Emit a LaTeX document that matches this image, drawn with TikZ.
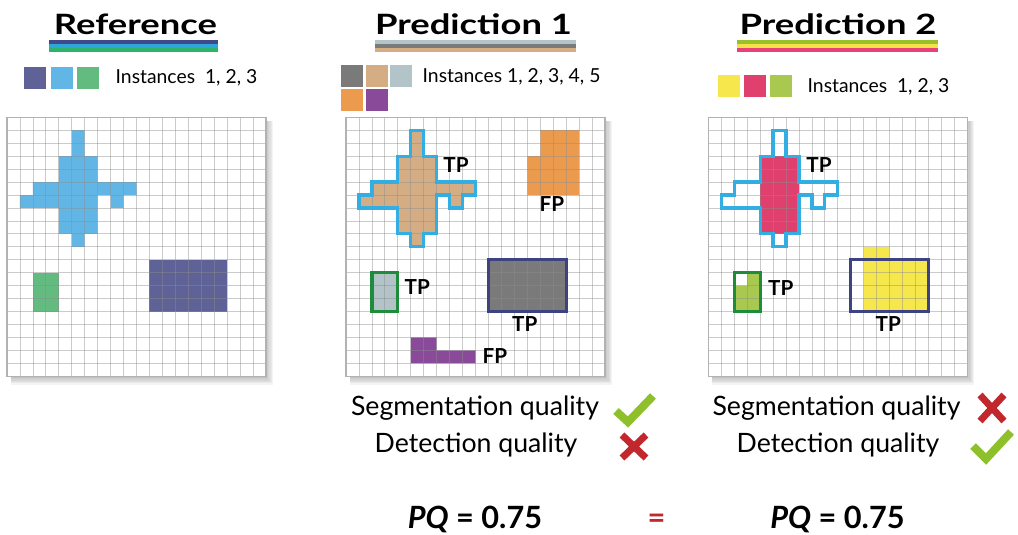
\documentclass[tikz,border=0pt]{standalone}
\usepackage{fontspec}
\setmainfont{Lato}
\usepackage{tikz}
\usetikzlibrary{calc,positioning}
\usepackage{xcolor}

\definecolor{refnavy}{HTML}{5E6296}
\definecolor{refblue}{HTML}{62B6E6}
\definecolor{refgreen}{HTML}{64BB80}
\definecolor{stnavy}{HTML}{3E4A8A}
\definecolor{stblue}{HTML}{2FA6D9}
\definecolor{stgreen}{HTML}{2DB36A}
\definecolor{predgray}{HTML}{7A7A7A}
\definecolor{predtan}{HTML}{D4AD84}
\definecolor{predpale}{HTML}{B2C4C8}
\definecolor{predorange}{HTML}{EC9A4E}
\definecolor{predpurple}{HTML}{8A4A9A}
\definecolor{predyellow}{HTML}{F6E84C}
\definecolor{predpink}{HTML}{E0406E}
\definecolor{predlime}{HTML}{A8C850}
\definecolor{stlime}{HTML}{98C02A}
\definecolor{styellow}{HTML}{F5E24A}
\definecolor{stpink}{HTML}{E8407A}
\definecolor{edgecyan}{HTML}{33AEE3}
\definecolor{edgegreen}{HTML}{1E8C3A}
\definecolor{edgenavy}{HTML}{3D4280}
\definecolor{okgreen}{HTML}{8DC02A}
\definecolor{badred}{HTML}{C1272D}

\begin{document}
\begin{tikzpicture}[x=0.75pt, y=-0.75pt,
    cellgrid/.style={draw=black!45, opacity=0.45, line width=0.6pt},
    gridbox/.style={draw=black!30, line width=0.8pt},
    outline/.style={line width=2.4pt, line join=miter},
    heading/.style={font=\fontsize{21}{24}\selectfont\bfseries, anchor=base, xscale=1.3},
    legendtext/.style={font=\fontsize{14.5}{17}\selectfont, anchor=west},
    tag/.style={font=\fontsize{15.5}{18}\selectfont\bfseries},
    quality/.style={font=\fontsize{20}{24}\selectfont, anchor=base},
    score/.style={font=\fontsize{23}{26}\selectfont\bfseries, anchor=base},
    okmark/.style={draw=okgreen, line width=6pt},
    failmark/.style={draw=badred, line width=5.2pt},
    crossoutline/.style={insert path={(5,1) -- (6,1) -- (6,3) -- (7,3) -- (7,5) -- (10,5) -- (10,6)
        -- (9,6) -- (9,7) -- (8,7) -- (8,6) -- (7,6) -- (7,9) -- (6,9) -- (6,10) -- (5,10) -- (5,9)
        -- (4,9) -- (4,7) -- (1,7) -- (1,6) -- (2,6) -- (2,5) -- (4,5) -- (4,3) -- (5,3) -- cycle}},
    gridbase/.style={insert path={(0,0) rectangle (20,20)}}]
    \useasboundingbox (0,0) rectangle (1018,535);

    % Headings with coloured underlines
    \node[heading] (hRef) at (135.5,35) {Reference};
    \node[heading] (hPredA) at (473.5,35) {Prediction 1};
    \node[heading] (hPredB) at (838,35) {Prediction 2};
    \foreach \x/\w/\ca/\cb/\cc in {49/169/stnavy/stblue/stgreen,
        375/201/predpale/predgray/predtan,
        737/201/stlime/styellow/stpink} {
        \fill[\ca] (\x,40.3) rectangle ++(\w,3.9);
        \fill[\cb] (\x,44.2) rectangle ++(\w,3.9);
        \fill[\cc] (\x,48.1) rectangle ++(\w,3.9);
    }

    % Legends
    \foreach \col/\x/\y in {refnavy/24/67, refblue/51/67, refgreen/77/67,
        predgray/341/65, predtan/366/65, predpale/390/65, predorange/341/89, predpurple/366/89,
        predyellow/718/75, predpink/744/75, predlime/770/75} {
        \fill[\col] (\x,\y) rectangle ++(22,22);
    }
    \node[legendtext] (lRef) at (111,78) {Instances\ \ 1, 2, 3};
    \node[legendtext] (lPredA) at (418,77) {Instances 1, 2, 3, 4, 5};
    \node[legendtext] (lPredB) at (803,87) {Instances\ \ 1, 2, 3};

    % Grids with soft shadow
    \foreach \gx in {7,346,708.3} {
        \begin{scope}[shift={(\gx,117.3)}, x=9.7125pt, y=-9.7125pt]
            \foreach \k in {1,...,6}
                \fill[black, opacity=0.045] (0.3,0.3) rectangle (20+0.09*\k,20+0.11*\k);
            \fill[white, gridbase];
        \end{scope}
    }

    % Reference objects
    \begin{scope}[shift={(7,117.3)}, x=9.7125pt, y=-9.7125pt]
        \fill[refblue, crossoutline];
        \fill[refgreen] (2,12) rectangle (4,15);
        \fill[refnavy] (11,11) rectangle (17,15);
        \foreach \i in {1,...,19} {
            \draw[cellgrid] (\i,0) -- (\i,20);
            \draw[cellgrid] (0,\i) -- (20,\i);
        }
        \draw[gridbox, gridbase];
    \end{scope}

    % Prediction 1 objects
    \begin{scope}[shift={(346,117.3)}, x=9.7125pt, y=-9.7125pt]
        \fill[predtan, crossoutline];
        \fill[predpale] (2,12) rectangle (4,15);
        \fill[predgray] (11,11) rectangle (17,15);
        \fill[predorange] (15,1) -- (18,1) -- (18,6) -- (14,6) -- (14,3) -- (15,3) -- cycle;
        \fill[predpurple] (5,17) -- (7,17) -- (7,18) -- (10,18) -- (10,19) -- (5,19) -- cycle;
        \foreach \i in {1,...,19} {
            \draw[cellgrid] (\i,0) -- (\i,20);
            \draw[cellgrid] (0,\i) -- (20,\i);
        }
        \draw[gridbox, gridbase];
        \draw[outline, edgecyan, crossoutline];
        \draw[outline, edgegreen] (2,12) rectangle (4,15);
        \draw[outline, edgenavy] (11,11) rectangle (17,15);
        \node[tag] (tpA1) at (8.5,3.7) {TP};
        \node[tag] (fpA1) at (15.9,6.7) {FP};
        \node[tag] (tpA2) at (5.5,13.1) {TP};
        \node[tag] (tpA3) at (13.8,16) {TP};
        \node[tag] (fpA2) at (11.5,18.4) {FP};
    \end{scope}

    % Prediction 2 objects
    \begin{scope}[shift={(708.3,117.3)}, x=9.7125pt, y=-9.7125pt]
        \fill[predpink] (4,3) rectangle (7,9);
        \fill[predlime] (3,12) -- (4,12) -- (4,15) -- (2,15) -- (2,13) -- (3,13) -- cycle;
        \fill[predyellow] (12,10) -- (14,10) -- (14,11) -- (17,11) -- (17,15) -- (12,15) -- cycle;
        \foreach \i in {1,...,19} {
            \draw[cellgrid] (\i,0) -- (\i,20);
            \draw[cellgrid] (0,\i) -- (20,\i);
        }
        \draw[gridbox, gridbase];
        \draw[outline, edgecyan, crossoutline];
        \draw[outline, edgegreen] (2,12) rectangle (4,15);
        \draw[outline, edgenavy] (11,11) rectangle (17,15);
        \node[tag] (tpB1) at (8.55,3.7) {TP};
        \node[tag] (tpB2) at (5.6,13.15) {TP};
        \node[tag] (tpB3) at (13.9,16) {TP};
    \end{scope}

    % Quality verdicts
    \node[quality] (segA) at (475,415) {Segmentation quality};
    \node[quality] (detA) at (476,452) {Detection quality};
    \node[quality] (segB) at (836.5,415) {Segmentation quality};
    \node[quality] (detB) at (838,452) {Detection quality};
    \draw[okmark] (616,411) -- (628,422) -- (653,396);
    \draw[failmark] (622,435) -- (646,458) (646,435) -- (622,458);
    \draw[failmark] (980,395) -- (1004,421) (1004,395) -- (980,421);
    \draw[okmark] (973,446) -- (986,459) -- (1011,432);

    % Panoptic quality
    \node[score] (pqA) at (475,528) {\itshape PQ\upshape{} = 0.75};
    \node[score, text=badred] (eq) at (656.5,528) {=};
    \node[score] (pqB) at (837.5,528) {\itshape PQ\upshape{} = 0.75};
\end{tikzpicture}
\end{document}
